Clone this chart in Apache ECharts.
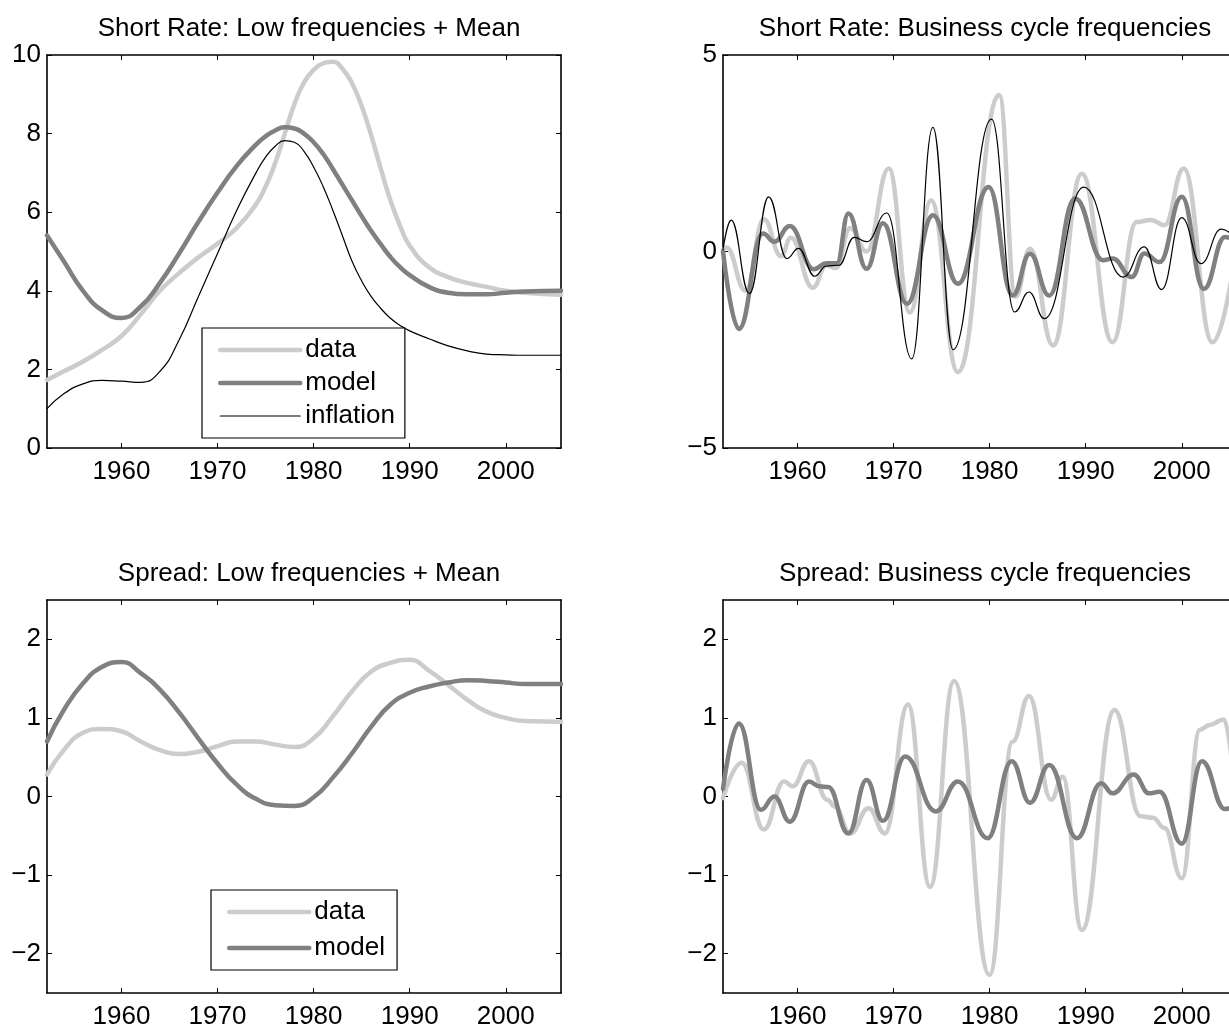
<!DOCTYPE html>
<html>
<head>
<meta charset="utf-8">
<script src="https://cdn.jsdelivr.net/npm/echarts@6/dist/echarts.min.js"></script>
<style>
html,body{margin:0;padding:0;background:#fff;overflow:hidden}
#c{width:1229px;height:1027px}
</style>
</head>
<body>
<div id="c"></div>
<script>
// ---------- data ----------
const xTickYears = [1960, 1970, 1980, 1990, 2000];
const spreadTicks = [-2, -1, 0, 1, 2];
const titles = [
  'Short Rate: Low frequencies + Mean',
  'Short Rate: Business cycle frequencies',
  'Spread: Low frequencies + Mean',
  'Spread: Business cycle frequencies'
];

// Short rate, low frequencies + mean
const srLowYears = [1952.25,1954,1956,1958,1960,1962,1964,1966,1968,1970,1972,1974,1975,1976,1977,1978,1979,1980,1981,1982,1983,1984,1985,1986,1987,1988,1989,1990,1992,1994,1996,1998,2000,2002,2005.75];
const srLowData = [1.73,1.95,2.2,2.5,2.85,3.4,4.0,4.45,4.85,5.2,5.6,6.2,6.65,7.25,8.0,8.75,9.3,9.62,9.79,9.83,9.65,9.28,8.7,7.95,7.1,6.3,5.65,5.15,4.6,4.35,4.2,4.1,4.0,3.95,3.9];
const srLowModel = [5.41,4.75,4.0,3.5,3.31,3.6,4.2,4.95,5.75,6.5,7.18,7.72,7.93,8.08,8.16,8.13,8.0,7.78,7.48,7.1,6.7,6.3,5.9,5.52,5.18,4.86,4.6,4.4,4.1,3.95,3.91,3.91,3.95,3.98,4.0];
const srLowInflation = [1.0,1.38,1.63,1.72,1.7,1.67,1.95,2.75,3.85,4.95,6.05,7.0,7.4,7.68,7.82,7.78,7.55,7.15,6.65,6.05,5.4,4.75,4.25,3.85,3.55,3.3,3.12,2.98,2.78,2.6,2.47,2.39,2.37,2.36,2.36];

// Short rate, business cycle frequencies [year, value]
const srBcData = [[1952.25,0.05],[1952.6,0.1],[1954.6,-1.0],[1956.5,0.82],[1958.3,-0.12],[1959.3,0.35],[1961.6,-0.92],[1963.0,-0.35],[1964.0,-0.42],[1965.5,0.6],[1967.2,0.0],[1969.5,2.11],[1971.7,-1.55],[1973.9,1.3],[1976.7,-3.07],[1981.0,3.98],[1982.7,-1.15],[1984.2,0.07],[1986.6,-2.39],[1989.6,1.98],[1992.8,-2.31],[1995.3,0.75],[1996.8,0.8],[1998.2,0.67],[2000.2,2.11],[2003.2,-2.31],[2005.75,0.2]];
const srBcModel = [[1952.25,0.0],[1953.9,-1.97],[1956.4,0.46],[1957.6,0.25],[1959.2,0.65],[1961.7,-0.45],[1963.0,-0.3],[1964.1,-0.3],[1965.3,0.97],[1967.2,-0.44],[1968.9,0.72],[1971.4,-1.33],[1974.1,0.92],[1976.7,-0.82],[1979.9,1.64],[1982.4,-1.12],[1984.2,-0.06],[1986.2,-1.12],[1988.9,1.35],[1991.8,-0.22],[1992.8,-0.18],[1994.8,-0.65],[1996.1,-0.05],[1997.7,-0.27],[2000.0,1.39],[2002.3,-0.95],[2004.5,0.37],[2005.75,0.25]];
const srBcInflation = [[1952.25,0.05],[1953.1,0.8],[1955.0,-1.07],[1957.0,1.39],[1958.9,-0.18],[1960.1,0.08],[1961.8,-0.63],[1963.0,-0.37],[1964.3,-0.35],[1965.9,0.36],[1967.2,0.25],[1969.3,0.98],[1971.9,-2.73],[1974.1,3.16],[1976.2,-2.5],[1980.2,3.37],[1982.6,-1.54],[1984.1,-1.03],[1985.7,-1.71],[1989.8,1.64],[1993.9,-0.65],[1996.1,0.12],[1997.9,-0.97],[2000.0,0.86],[2002.0,-0.31],[2004.1,0.57],[2005.75,0.3]];

// Spread, low frequencies + mean
const spLowYears = [1952.25,1954,1956,1958,1960,1962,1964,1966,1968,1970,1972,1974,1976,1978,1980,1982,1984,1986,1988,1990,1992,1994,1996,1998,2000,2002,2005.75];
const spLowData = [0.28,0.59,0.81,0.86,0.83,0.70,0.59,0.54,0.57,0.64,0.70,0.70,0.66,0.63,0.74,1.02,1.34,1.59,1.70,1.74,1.60,1.42,1.23,1.08,1.0,0.96,0.95];
const spLowModel = [0.70,1.10,1.44,1.65,1.71,1.57,1.36,1.07,0.74,0.42,0.15,-0.03,-0.11,-0.12,-0.01,0.24,0.55,0.89,1.17,1.32,1.40,1.45,1.48,1.47,1.45,1.43,1.43];

// Spread, business cycle frequencies [year, value]
const spBcData = [[1952.25,-0.02],[1954.2,0.43],[1956.5,-0.42],[1958.6,0.19],[1959.5,0.13],[1961.2,0.45],[1963.1,-0.04],[1963.9,-0.13],[1965.5,-0.47],[1967.4,-0.15],[1969.1,-0.47],[1971.5,1.17],[1973.8,-1.15],[1976.3,1.47],[1980.0,-2.27],[1982.4,0.7],[1984.1,1.28],[1986.4,-0.04],[1987.6,0.25],[1989.6,-1.7],[1993.0,1.1],[1995.7,-0.25],[1997.0,-0.27],[1998.2,-0.4],[2000.0,-1.04],[2001.9,0.85],[2002.9,0.91],[2004.4,0.98],[2005.75,-0.3]];
const spBcModel = [[1952.25,0.1],[1953.9,0.93],[1956.2,-0.17],[1957.6,0.0],[1959.2,-0.32],[1961.2,0.19],[1962.3,0.13],[1963.2,0.12],[1965.3,-0.47],[1967.2,0.21],[1968.9,-0.31],[1971.2,0.51],[1974.4,-0.19],[1976.7,0.19],[1979.8,-0.53],[1982.3,0.45],[1984.2,-0.08],[1986.2,0.40],[1989.1,-0.53],[1991.6,0.17],[1992.8,0.04],[1995.0,0.28],[1996.6,0.04],[1997.7,0.06],[2000.0,-0.6],[2002.1,0.45],[2004.5,-0.16],[2005.75,-0.1]];

// ---------- styling ----------
const FONT = "'Liberation Sans', Arial, Helvetica, sans-serif";
const FS = 26;
const X_MIN = 1952.25, X_MAX = 2005.75;
const LIGHT = '#cccccc', MID = '#808080', BLACK = '#000000';
const styles = {
  data: { color: LIGHT, width: 4.5 },
  model: { color: MID, width: 4.5 },
  inflation: { color: BLACK, width: 1.2 }
};
const grids = [
  { left: 47, top: 55, width: 514, height: 393 },
  { left: 723, top: 55, width: 514, height: 393 },
  { left: 47, top: 600, width: 514, height: 393 },
  { left: 723, top: 600, width: 514, height: 393 }
];
const yRanges = [
  { min: 0, max: 10, ticks: [0, 2, 4, 6, 8, 10] },
  { min: -5, max: 5, ticks: [-5, 0, 5] },
  { min: -2.5, max: 2.5, ticks: spreadTicks },
  { min: -2.5, max: 2.5, ticks: spreadTicks }
];
const minusFmt = v => String(v).replace('-', '\u2212');

const xAxes = [], yAxes = [];
grids.forEach((g, i) => {
  const line = { show: true, onZero: false, lineStyle: { color: BLACK, width: 1.6 } };
  const tick = (vals) => ({ show: true, inside: true, length: 5, customValues: vals, lineStyle: { color: BLACK, width: 1 } });
  xAxes.push({
    gridIndex: i, type: 'value', position: 'bottom', min: X_MIN, max: X_MAX,
    axisLine: line, axisTick: tick(xTickYears),
    axisLabel: { show: true, customValues: xTickYears, color: BLACK, fontSize: FS, fontFamily: FONT, margin: 11, formatter: v => String(v) },
    splitLine: { show: false }
  });
  xAxes.push({
    gridIndex: i, type: 'value', position: 'top', min: X_MIN, max: X_MAX,
    axisLine: line, axisTick: tick(xTickYears), axisLabel: { show: false }, splitLine: { show: false }
  });
  const yr = yRanges[i];
  yAxes.push({
    gridIndex: i, type: 'value', position: 'left', min: yr.min, max: yr.max,
    axisLine: line, axisTick: tick(yr.ticks),
    axisLabel: { show: true, customValues: yr.ticks, color: BLACK, fontSize: FS, fontFamily: FONT, margin: 6, formatter: minusFmt },
    splitLine: { show: false }
  });
  yAxes.push({
    gridIndex: i, type: 'value', position: 'right', min: yr.min, max: yr.max,
    axisLine: line, axisTick: tick(yr.ticks), axisLabel: { show: false }, splitLine: { show: false }
  });
});

const zip = (xs, ys) => xs.map((x, k) => [x, ys[k]]);
// low-frequency series: smooth spline through samples; business-cycle series: points are turning points
function mk(name, gi, pts, z, turningPoints) {
  const s = {
    name, type: 'line', xAxisIndex: 2 * gi, yAxisIndex: 2 * gi, data: pts,
    smooth: turningPoints ? 0.45 : 0.5, symbol: 'none', showSymbol: false, silent: true,
    lineStyle: { color: styles[name].color, width: styles[name].width, cap: 'round', join: 'round' },
    itemStyle: { color: styles[name].color },
    z, animation: false
  };
  if (turningPoints) s.smoothMonotone = 'x';
  return s;
}
const series = [
  mk('data', 0, zip(srLowYears, srLowData), 2, false),
  mk('model', 0, zip(srLowYears, srLowModel), 3, false),
  mk('inflation', 0, zip(srLowYears, srLowInflation), 4, false),
  mk('data', 1, srBcData, 2, true),
  mk('model', 1, srBcModel, 3, true),
  mk('inflation', 1, srBcInflation, 4, true),
  mk('data', 2, zip(spLowYears, spLowData), 2, false),
  mk('model', 2, zip(spLowYears, spLowModel), 3, false),
  mk('data', 3, spBcData, 2, true),
  mk('model', 3, spBcModel, 3, true)
];

const legItem = n => ({ name: n, lineStyle: { color: styles[n].color, width: styles[n].width }, itemStyle: { opacity: 0 } });
const legendBase = {
  orient: 'vertical', itemWidth: 80, itemHeight: 14,
  borderColor: BLACK, borderWidth: 1.2, backgroundColor: '#fff', borderRadius: 0,
  textStyle: { fontSize: FS, lineHeight: 25, color: BLACK, fontFamily: FONT },
  itemStyle: { opacity: 0 }, selectedMode: false, z: 10
};
const legends = [
  Object.assign({}, legendBase, { left: 202, top: 328, itemGap: 7, padding: [9, 10, 9, 16], data: ['data', 'model', 'inflation'].map(legItem) }),
  Object.assign({}, legendBase, { left: 211, top: 890, itemGap: 10, padding: [9, 12, 9, 16], data: ['data', 'model'].map(legItem) })
];

const titleCenters = [[304, 11], [980, 11], [304, 556], [980, 556]];
const titleOpts = titles.map((t, i) => ({
  text: t, left: titleCenters[i][0], top: titleCenters[i][1], textAlign: 'center',
  textStyle: { fontSize: FS, fontWeight: 'normal', color: BLACK, fontFamily: FONT }
}));

const chart = echarts.init(document.getElementById('c'), null, { renderer: 'canvas' });
chart.setOption({
  backgroundColor: '#fff',
  animation: false,
  title: titleOpts,
  legend: legends,
  grid: grids.map(g => Object.assign({ outerBoundsMode: 'none', containLabel: false }, g)),
  xAxis: xAxes,
  yAxis: yAxes,
  series
});
</script>
</body>
</html>
